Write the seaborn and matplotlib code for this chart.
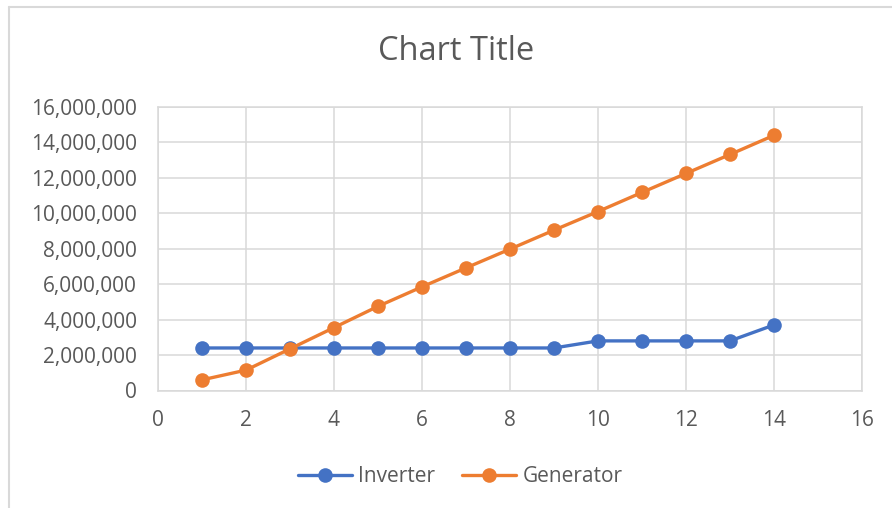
import matplotlib
matplotlib.use("Agg")
import matplotlib.pyplot as plt
import matplotlib.ticker as mticker
from matplotlib.lines import Line2D
import seaborn as sns
import pandas as pd

# Series values
x_values = [1, 2, 3, 4, 5, 6, 7, 8, 9, 10, 11, 12, 13, 14]
inverter = [2400000, 2400000, 2400000, 2400000, 2400000, 2400000, 2400000,
            2400000, 2400000, 2800000, 2800000, 2800000, 2800000, 3700000]
generator = [600000, 1150000, 2350000, 3550000, 4750000, 5850000, 6920000,
             7980000, 9050000, 10100000, 11180000, 12250000, 13320000, 14400000]
series_names = ["Inverter", "Generator"]
colors = ["#4472C4", "#ED7D31"]

x_ticks = [0, 2, 4, 6, 8, 10, 12, 14, 16]
y_ticks = [0, 2000000, 4000000, 6000000, 8000000, 10000000, 12000000, 14000000, 16000000]

df = pd.DataFrame({"x": x_values * 2,
                   "value": inverter + generator,
                   "series": [series_names[0]] * len(x_values) + [series_names[1]] * len(x_values)})

sns.set_theme(style="white")
plt.rcParams["font.family"] = ["Open Sans", "DejaVu Sans"]
text_color = "#595959"
grid_color = "#D9D9D9"
label_size = 15

fig = plt.figure(figsize=(8.92, 5.08), dpi=100)
ax = fig.add_axes([158 / 892, 1 - 390.5 / 508, (862 - 158) / 892, (390.5 - 107) / 508])

sns.lineplot(data=df, x="x", y="value", hue="series", palette=colors, ax=ax,
             marker="o", markersize=10.5, markeredgewidth=0, linewidth=2.4,
             legend=False, zorder=3)

ax.set_xlim(0, 16)
ax.set_ylim(0, 16000000)
ax.set_xticks(x_ticks)
ax.set_yticks(y_ticks)
ax.yaxis.set_major_formatter(mticker.FuncFormatter(lambda v, p: f"{int(v):,}"))
ax.grid(True, color=grid_color, linewidth=1.1)
ax.set_axisbelow(True)
for s in ax.spines.values():
    s.set_color(grid_color)
    s.set_linewidth(1.1)
ax.tick_params(axis="both", length=0, labelsize=label_size, labelcolor=text_color)
ax.tick_params(axis="y", pad=15)
ax.tick_params(axis="x", pad=14)
ax.set_xlabel("")
ax.set_ylabel("")

fig.text(456 / 892, 1 - 52 / 508, "Chart Title", ha="center", va="center",
         fontsize=23.5, color=text_color)

handles = [Line2D([0], [0], color=c, marker="o", markersize=10.5, markeredgewidth=0,
                  linewidth=2.4) for c in colors]
fig.legend(handles, series_names, loc="center", bbox_to_anchor=(460 / 892, 1 - 477 / 508),
           ncol=2, frameon=False, fontsize=label_size, labelcolor=text_color,
           handlelength=2.6, handletextpad=0.3, columnspacing=1.3)

# Chart-area border (top and left edges)
fig.add_artist(Line2D([8.5 / 892, 8.5 / 892], [0, 1 - 6.5 / 508], transform=fig.transFigure,
                      color=grid_color, linewidth=1.5))
fig.add_artist(Line2D([8.5 / 892, 1], [1 - 6.5 / 508, 1 - 6.5 / 508], transform=fig.transFigure,
                      color=grid_color, linewidth=1.5))

fig.savefig("out.png", dpi=100, facecolor="white")
